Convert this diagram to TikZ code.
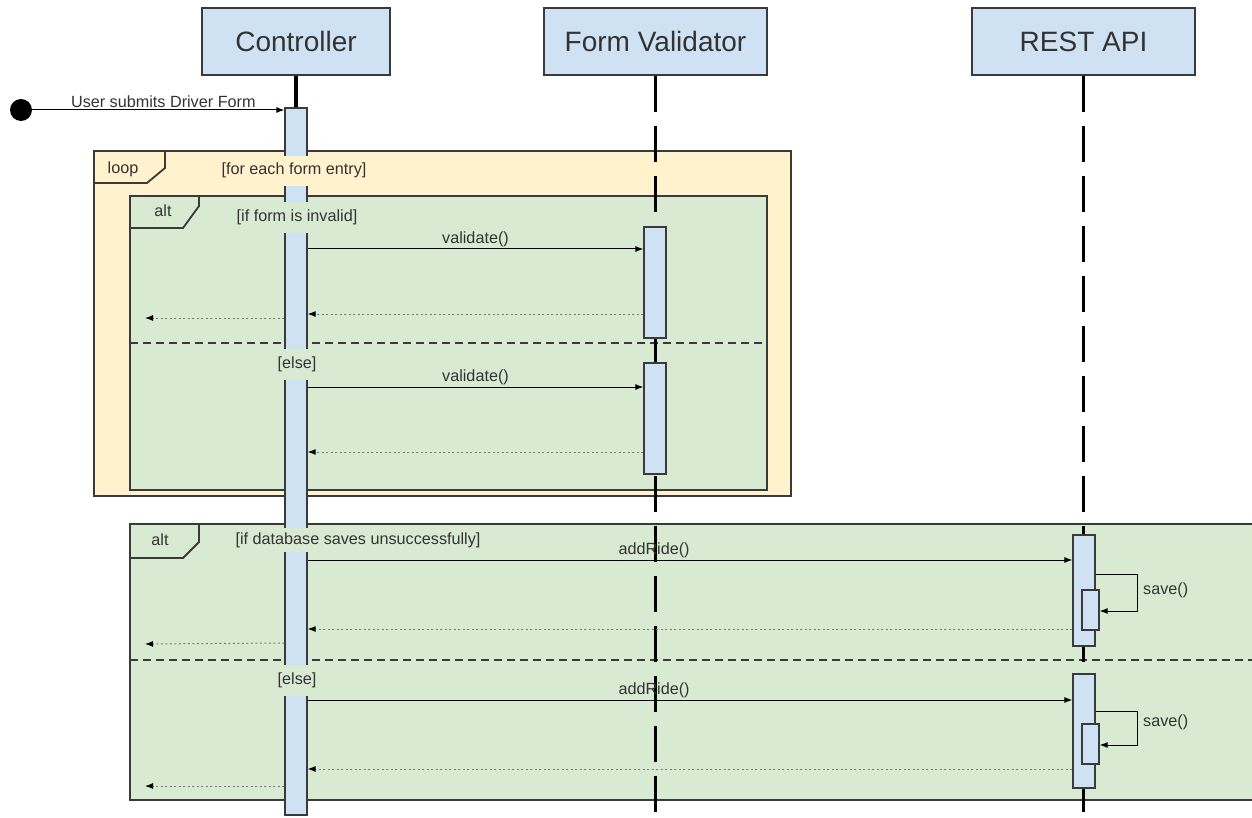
\documentclass[tikz,border=0pt]{standalone}
\usepackage{fontspec}
\setmainfont{Liberation Sans}
\usetikzlibrary{arrows.meta,calc}
\definecolor{headfill}{HTML}{CFE2F3}
\definecolor{barfill}{HTML}{CFE2F3}
\definecolor{loopfill}{HTML}{FFF2CC}
\definecolor{altfill}{HTML}{D9EAD3}
\definecolor{edge}{HTML}{3A3A3A}
\definecolor{txt}{HTML}{333333}
\definecolor{retline}{HTML}{7A7A7A}

\begin{document}
\begin{tikzpicture}[x=1pt,y=-1pt,
  head/.style={draw=edge,fill=headfill,line width=1.3pt,minimum height=67pt,
    inner sep=0pt,text=txt,font=\fontsize{28}{31}\selectfont},
  lifeline/.style={line width=3.5pt,dash pattern=on 36pt off 14pt},
  actbar/.style={draw=edge,fill=barfill,line width=1.3pt,minimum width=22pt,inner sep=0pt},
  subbar/.style={draw=edge,fill=barfill,line width=1.3pt,minimum width=17pt,minimum height=40pt,inner sep=0pt},
  frame/.style={draw=edge,line width=1.8pt},
  divider/.style={draw=edge,line width=1.3pt,dash pattern=on 8pt off 5pt},
  msg/.style={line width=1pt,-{Latex[length=8pt,width=6pt]}},
  ret/.style={line width=1pt,draw=retline,dash pattern=on 2pt off 2.5pt,
    -{Latex[length=8pt,width=6pt,fill=black,color=black]}},
  lbl/.style={font=\fontsize{16.2}{18}\selectfont,text=txt,inner sep=2pt},
  guard/.style={font=\fontsize{16.2}{18}\selectfont,text=txt,inner sep=1pt,
    text height=11pt,text depth=3pt},
  tag/.style={font=\fontsize{16.2}{18}\selectfont,text=txt,inner sep=0pt}
]
\useasboundingbox (0,0) rectangle (1252,818);

% ---------- combined fragments ----------
\fill[loopfill] (94,151) rectangle (791,496);
\draw[frame] (94,151) rectangle (791,496);
\draw[frame] (94,183) -- (147,183) -- (165,168) -- (165,151);
\node[tag] (looptag) at (123,169) {loop};

\fill[altfill] (130,196) rectangle (767,490);
\draw[frame] (130,196) rectangle (767,490);
\draw[frame] (130,228) -- (183,228) -- (199,206) -- (199,196);
\node[tag] (alttag1) at (163,211) {alt};
\draw[divider] (130,343) -- (767,343);

\fill[altfill] (130,524) rectangle (1252,800);
\draw[frame] (1252,524) -- (130,524) -- (130,800) -- (1252,800);
\draw[frame] (130,558) -- (183,558) -- (199,542) -- (199,524);
\node[tag] (alttag2) at (160,540) {alt};
\draw[divider] (130,660) -- (1252,660);

% ---------- participants and lifelines ----------
\node[head,minimum width=188pt] (ctrl) at (296,41.5) {Controller};
\node[head,minimum width=223pt] (fv) at (655.5,41.5) {Form Validator};
\node[head,minimum width=223pt] (api) at (1083.5,41.5) {REST API};
\coordinate (bottom) at (0,818);

\node[actbar,minimum height=707pt] (cbar) at (296,461.5) {};
\draw[lifeline] (ctrl.south) -- (cbar.north);
\draw[lifeline] (fv.south) -- (fv.south |- bottom);
\draw[lifeline] (api.south) -- (api.south |- bottom);
\node[actbar,minimum height=707pt] at (cbar) {};

% ---------- activation bars ----------
\node[actbar,minimum height=111pt] (fv1) at (655,282.5) {};
\node[actbar,minimum height=111pt] (fv2) at (655,418.5) {};
\node[actbar,minimum height=111pt] (r1) at (1084,590.5) {};
\node[subbar] (r1n) at (1090.5,610) {};
\node[actbar,minimum height=114pt] (r2) at (1084,731) {};
\node[subbar] (r2n) at (1090.5,744) {};

% ---------- guards ----------
\node[guard,fill=loopfill,minimum height=30pt] (g0) at (294,171) {[for each form entry]};
\node[guard,fill=altfill,minimum height=31pt] (g1) at (297,217.5) {[if form is invalid]};
\node[guard,fill=altfill,minimum height=31pt] (g2) at (297,364) {[else]};
\node[guard,fill=altfill,minimum height=24pt] (g3) at (358,540) {[if database saves unsuccessfully]};
\node[guard,fill=altfill,minimum height=31pt] (g4) at (297,680) {[else]};

% ---------- message rows ----------
\coordinate (y0) at (0,110);
\coordinate (y1) at (0,249);
\coordinate (y2) at (0,314);
\coordinate (y3) at (0,318);
\coordinate (y4) at (0,387);
\coordinate (y5) at (0,452);
\coordinate (y6) at (0,560);
\coordinate (y7) at (0,574);
\coordinate (y8) at (0,611);
\coordinate (y9) at (0,629);
\coordinate (y10) at (0,643);
\coordinate (y11) at (0,700);
\coordinate (y12) at (0,711);
\coordinate (y13) at (0,745);
\coordinate (y14) at (0,769);
\coordinate (y15) at (0,786);
\coordinate (out1) at (145,318);
\coordinate (out2) at (145,644);
\coordinate (out3) at (145,786);

% ---------- found message ----------
\node[circle,fill=black,minimum size=22pt,inner sep=0pt] (start) at (21,110) {};
\draw[msg] (start) -- node[lbl,above,pos=0.52] {User submits Driver Form} (cbar.west |- y0);

% ---------- validation ----------
\draw[msg] (cbar.east |- y1) -- node[lbl,above] {validate()} (fv1.west |- y1);
\draw[ret] (fv1.west |- y2) -- (cbar.east |- y2);
\draw[ret] (cbar.west |- y3) -- (out1);
\draw[msg] (cbar.east |- y4) -- node[lbl,above] {validate()} (fv2.west |- y4);
\draw[ret] (fv2.west |- y5) -- (cbar.east |- y5);

% ---------- saving the ride ----------
\draw[msg] (cbar.east |- y6) -- node[lbl,above,pos=0.453] {addRide()} (r1.west |- y6);
\draw[msg] (r1.east |- y7) -- ++(42,0) |- (r1n.east |- y8);
\node[lbl,anchor=west] (save1) at (1141,590) {save()};
\draw[ret] (r1.west |- y9) -- (cbar.east |- y9);
\draw[ret] (cbar.west |- y10) -- (out2);

\draw[msg] (cbar.east |- y11) -- node[lbl,above,pos=0.453] {addRide()} (r2.west |- y11);
\draw[msg] (r2.east |- y12) -- ++(42,0) |- (r2n.east |- y13);
\node[lbl,anchor=west] (save2) at (1141,722) {save()};
\draw[ret] (r2.west |- y14) -- (cbar.east |- y14);
\draw[ret] (cbar.west |- y15) -- (out3);
\end{tikzpicture}
\end{document}
